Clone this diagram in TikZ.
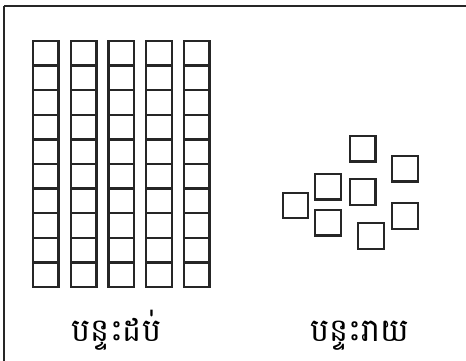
\documentclass[tikz,border=0pt]{standalone}
\usepackage{fontspec}
\newfontfamily\khmerfont[Script=Khmer]{Battambang}
\begin{document}
\begin{tikzpicture}[x=1pt,y=-1pt,
  frame/.style={line width=2pt,draw=black!85},
  cell/.style={line width=2.3pt,draw=black!85},
  lab/.style={font=\khmerfont\fontsize{32}{37}\selectfont,inner sep=0pt,anchor=base,text depth=8pt,text height=22pt}]
\useasboundingbox (0,0) rectangle (466,360);
\fill[white] (0,0) rectangle (466,360);
\draw[frame] (4,6) -- (470,6);
\draw[frame] (4,6) -- (4,364);
% tens rods
\foreach \cx in {33,70.8,108.5,146.3,184}{
  \foreach \r in {0,...,9}{
    \draw[cell] (\cx,41+\r*24.6) rectangle ++(25.6,24.6);
  }
}
% ones
\foreach \px/\py in {350/136, 392.3/156, 315.3/174, 350/179.3, 282.7/192.7, 315.3/210, 392.3/203.3, 358.3/223.3}{
  \draw[cell] (\px,\py) rectangle ++(25.6,25.6);
}
\node[lab] (tens) at (116.5,341) {បន្ទះដប់};
\node[lab] (ones) at (360,341) {បន្ទះរាយ};
\end{tikzpicture}
\end{document}
